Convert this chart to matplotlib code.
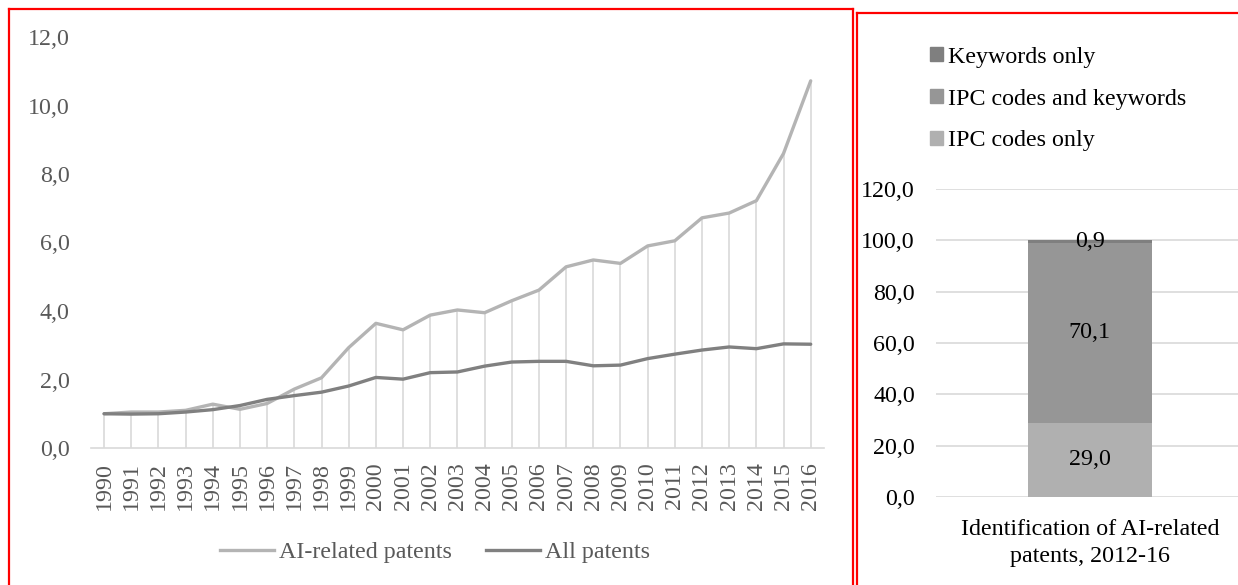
import matplotlib
matplotlib.use("Agg")
import matplotlib.pyplot as plt
from matplotlib.lines import Line2D
from matplotlib.patches import Patch
import numpy as np

plt.rcParams["font.family"] = ["Liberation Serif", "DejaVu Serif"]

years = [str(y) for y in range(1990, 2017)]
ai_patents = [1.0, 1.05, 1.05, 1.1, 1.28, 1.13, 1.3, 1.72, 2.05, 2.93, 3.64, 3.45, 3.88,
              4.03, 3.95, 4.3, 4.61, 5.29, 5.49, 5.39, 5.9, 6.05, 6.72, 6.86, 7.22, 8.6, 10.72]
all_patents = [1.0, 0.99, 1.0, 1.05, 1.12, 1.24, 1.42, 1.53, 1.63, 1.81, 2.06, 2.01, 2.2,
               2.22, 2.39, 2.51, 2.53, 2.53, 2.4, 2.42, 2.61, 2.74, 2.86, 2.95, 2.9, 3.04, 3.03]

stack_labels = ["IPC codes only", "IPC codes and keywords", "Keywords only"]
stack_values = [29.0, 70.1, 0.9]
stack_category = "Identification of AI-related\npatents, 2012-16"

W, H = 1238, 585
FS = 17.3
GREY_TXT = "#595959"
GRID = "#D9D9D9"


def fx(px):
    return px / W


def fy(py):
    return 1 - py / H


def comma(v, _=None):
    return f"{v:.1f}".replace(".", ",")


fig = plt.figure(figsize=(W / 100, H / 100), dpi=100)

# --- left panel: growth indices ---
ax = fig.add_axes([fx(90.5), fy(448), fx(824.3) - fx(90.5), fy(37) - fy(448)])
x = np.arange(len(years))
tops = np.maximum(ai_patents, all_patents)
ax.vlines(x, 0, tops, color=GRID, lw=1.2, zorder=1)
ax.plot(x, ai_patents, color="#B4B4B4", lw=2.4, solid_capstyle="round", zorder=3,
        label="AI-related patents")
ax.plot(x, all_patents, color="#808080", lw=2.4, solid_capstyle="round", zorder=4,
        label="All patents")
ax.set_xlim(-0.5, len(years) - 0.5)
ax.set_ylim(0, 12)
ax.set_yticks(np.arange(0, 12.1, 2))
ax.yaxis.set_major_formatter(plt.FuncFormatter(comma))
ax.set_xticks(x)
ax.set_xticklabels(years, rotation=90)
ax.tick_params(length=0, labelsize=FS, colors=GREY_TXT)
ax.tick_params(axis="y", pad=15)
ax.tick_params(axis="x", pad=10)
for s in ["top", "right", "left"]:
    ax.spines[s].set_visible(False)
ax.spines["bottom"].set_color(GRID)
ax.spines["bottom"].set_linewidth(1.2)

handles = [Line2D([], [], color="#B4B4B4", lw=2.4), Line2D([], [], color="#808080", lw=2.4)]
fig.legend(handles, ["AI-related patents", "All patents"], loc="center",
           bbox_to_anchor=(fx(435), fy(552)), ncol=2, frameon=False, fontsize=FS,
           handlelength=2.25, handletextpad=0.2, columnspacing=1.4, labelcolor=GREY_TXT)

# --- right panel: share of identification method ---
ax2 = fig.add_axes([fx(935.7), fy(497), fx(1244) - fx(935.7), fy(189) - fy(497)])
colors = ["#B0B0B0", "#969696", "#7F7F7F"]
bottom = 0.0
for lab, val, col in zip(stack_labels, stack_values, colors):
    ax2.bar([0], [val], bottom=bottom, width=0.4, color=col, label=lab, zorder=3)
    ax2.text(0, bottom + val / 2, comma(val), ha="center", va="center",
             fontsize=FS, color="black", zorder=4)
    bottom += val
ax2.set_xlim(-0.5, 0.5)
ax2.set_ylim(0, 120)
ax2.set_yticks(np.arange(0, 121, 20))
ax2.yaxis.set_major_formatter(plt.FuncFormatter(comma))
ax2.set_xticks([0])
ax2.set_xticklabels([stack_category], linespacing=1.35)
ax2.yaxis.grid(True, color=GRID, lw=1.2, zorder=0)
ax2.tick_params(length=0, labelsize=FS, colors="black")
ax2.tick_params(axis="y", pad=15)
ax2.tick_params(axis="x", pad=16)
for s in ax2.spines.values():
    s.set_visible(False)

patches = [Patch(color=c) for c in colors][::-1]
fig.legend(patches, stack_labels[::-1], loc="upper left",
           bbox_to_anchor=(fx(908), fy(25)), frameon=False, fontsize=FS,
           handlelength=0.55, handleheight=0.55, handletextpad=0.2, labelspacing=0.87,
           labelcolor="black")

# red frames around both panels
red = dict(color="#FF0000", lw=1.6, transform=fig.transFigure, clip_on=False)
fig.add_artist(Line2D([fx(9), fx(9)], [fy(8.5), 0], **red))
fig.add_artist(Line2D([fx(9), fx(853)], [fy(8.5), fy(8.5)], **red))
fig.add_artist(Line2D([fx(853), fx(853)], [fy(8.5), 0], **red))
fig.add_artist(Line2D([fx(857.5), fx(857.5)], [fy(12.5), 0], **red))
fig.add_artist(Line2D([fx(857.5), 1], [fy(12.5), fy(12.5)], **red))

fig.savefig("out.png", dpi=100)
